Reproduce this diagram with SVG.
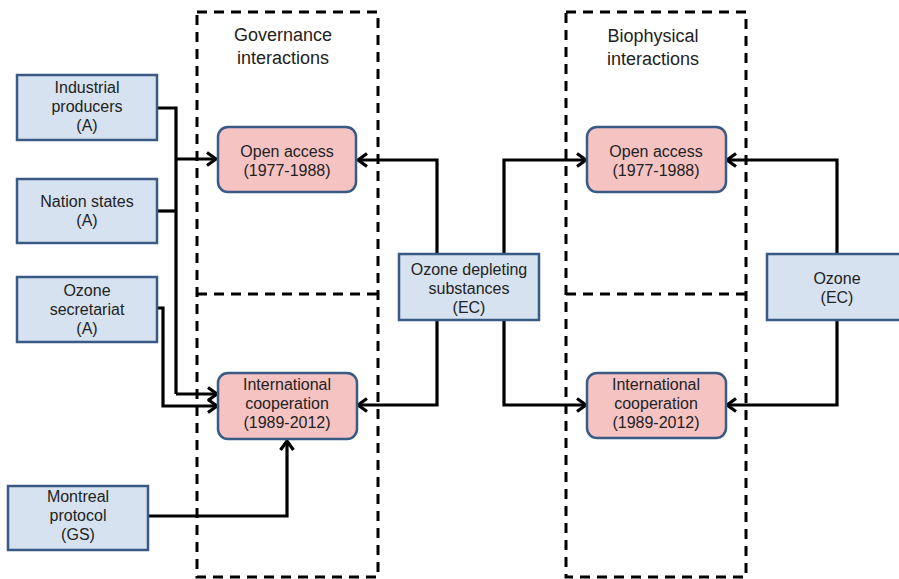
<svg xmlns="http://www.w3.org/2000/svg" width="899" height="579" viewBox="0 0 899 579">
<defs>
<style>
.bg{fill:#ffffff}
.frame{fill:none;stroke:#000;stroke-width:3;stroke-dasharray:10 7}
.blue{fill:#d6e2ef;stroke:#3a5a86;stroke-width:2.5}
.pink{fill:#f6c3c3;stroke:#3a5a86;stroke-width:2.5}
.t{font-family:"Liberation Sans",Arial,sans-serif;font-size:16px;fill:#222;text-anchor:middle}
.title{font-family:"Liberation Sans",Arial,sans-serif;font-size:18px;fill:#222;text-anchor:middle}
.c{fill:none;stroke:#000;stroke-width:3.2;stroke-linejoin:miter}
.a{marker-end:url(#arr)}
</style>
<marker id="arr" viewBox="0 0 12 16" refX="10.5" refY="8" markerWidth="12" markerHeight="16" markerUnits="userSpaceOnUse" orient="auto">
<path d="M1.5,1.5 L10.5,8 L1.5,14.5" fill="none" stroke="#000" stroke-width="3.2"/>
</marker>
</defs>
<rect class="bg" x="0" y="0" width="899" height="579"/>

<g id="frames">
<rect class="frame" x="197" y="12" width="181" height="565"/>
<line class="frame" x1="197" y1="294" x2="378" y2="294"/>
<rect class="frame" x="566" y="12" width="180" height="565"/>
<line class="frame" x1="566" y1="294" x2="746" y2="294"/>
<text class="title" x="283" y="41">Governance</text>
<text class="title" x="283" y="64">interactions</text>
<text class="title" x="653" y="42">Biophysical</text>
<text class="title" x="653" y="65">interactions</text>
</g>

<g id="connectors">
<polyline class="c" points="157,108 176,108 176,394"/>
<polyline class="c" points="157,211 176,211"/>
<polyline class="c a" points="176,159 216,159"/>
<polyline class="c a" points="176,394 217,394"/>
<polyline class="c a" points="157,308 163,308 163,406 217,406"/>
<polyline class="c a" points="148,516 287,516 287,441"/>
<polyline class="c a" points="437,254 437,160 358,160"/>
<polyline class="c a" points="437,320 437,405 358,405"/>
<polyline class="c a" points="504,254 504,160 586,160"/>
<polyline class="c a" points="504,320 504,405 586,405"/>
<polyline class="c a" points="837,254 837,160 727,160"/>
<polyline class="c a" points="837,320 837,405 727,405"/>
</g>

<g id="industrial">
<rect class="blue" x="17" y="75" width="140" height="65"/>
<text class="t" x="87" y="93">Industrial</text>
<text class="t" x="87" y="112">producers</text>
<text class="t" x="87" y="131">(A)</text>
</g>
<g id="nation">
<rect class="blue" x="17" y="179" width="140" height="64"/>
<text class="t" x="87" y="207">Nation states</text>
<text class="t" x="87" y="226">(A)</text>
</g>
<g id="secretariat">
<rect class="blue" x="17" y="277" width="140" height="65"/>
<text class="t" x="87" y="296">Ozone</text>
<text class="t" x="87" y="315">secretariat</text>
<text class="t" x="87" y="334">(A)</text>
</g>
<g id="montreal">
<rect class="blue" x="8" y="486" width="140" height="64"/>
<text class="t" x="78" y="502">Montreal</text>
<text class="t" x="78" y="521">protocol</text>
<text class="t" x="78" y="540">(GS)</text>
</g>
<g id="gov-open">
<rect class="pink" x="218" y="127" width="138" height="65" rx="10"/>
<text class="t" x="287" y="157">Open access</text>
<text class="t" x="287" y="176">(1977-1988)</text>
</g>
<g id="gov-intl">
<rect class="pink" x="218" y="373" width="139" height="66" rx="10"/>
<text class="t" x="287" y="390">International</text>
<text class="t" x="287" y="409">cooperation</text>
<text class="t" x="287" y="428">(1989-2012)</text>
</g>
<g id="ods">
<rect class="blue" x="399" y="254" width="140" height="66"/>
<text class="t" x="469" y="275">Ozone depleting</text>
<text class="t" x="469" y="294">substances</text>
<text class="t" x="469" y="313">(EC)</text>
</g>
<g id="bio-open">
<rect class="pink" x="587" y="127" width="139" height="65" rx="10"/>
<text class="t" x="656" y="157">Open access</text>
<text class="t" x="656" y="176">(1977-1988)</text>
</g>
<g id="bio-intl">
<rect class="pink" x="587" y="373" width="139" height="65" rx="10"/>
<text class="t" x="656" y="390">International</text>
<text class="t" x="656" y="409">cooperation</text>
<text class="t" x="656" y="428">(1989-2012)</text>
</g>
<g id="ozone">
<rect class="blue" x="767" y="254" width="140" height="66"/>
<text class="t" x="837" y="284">Ozone</text>
<text class="t" x="837" y="303">(EC)</text>
</g>
</svg>
